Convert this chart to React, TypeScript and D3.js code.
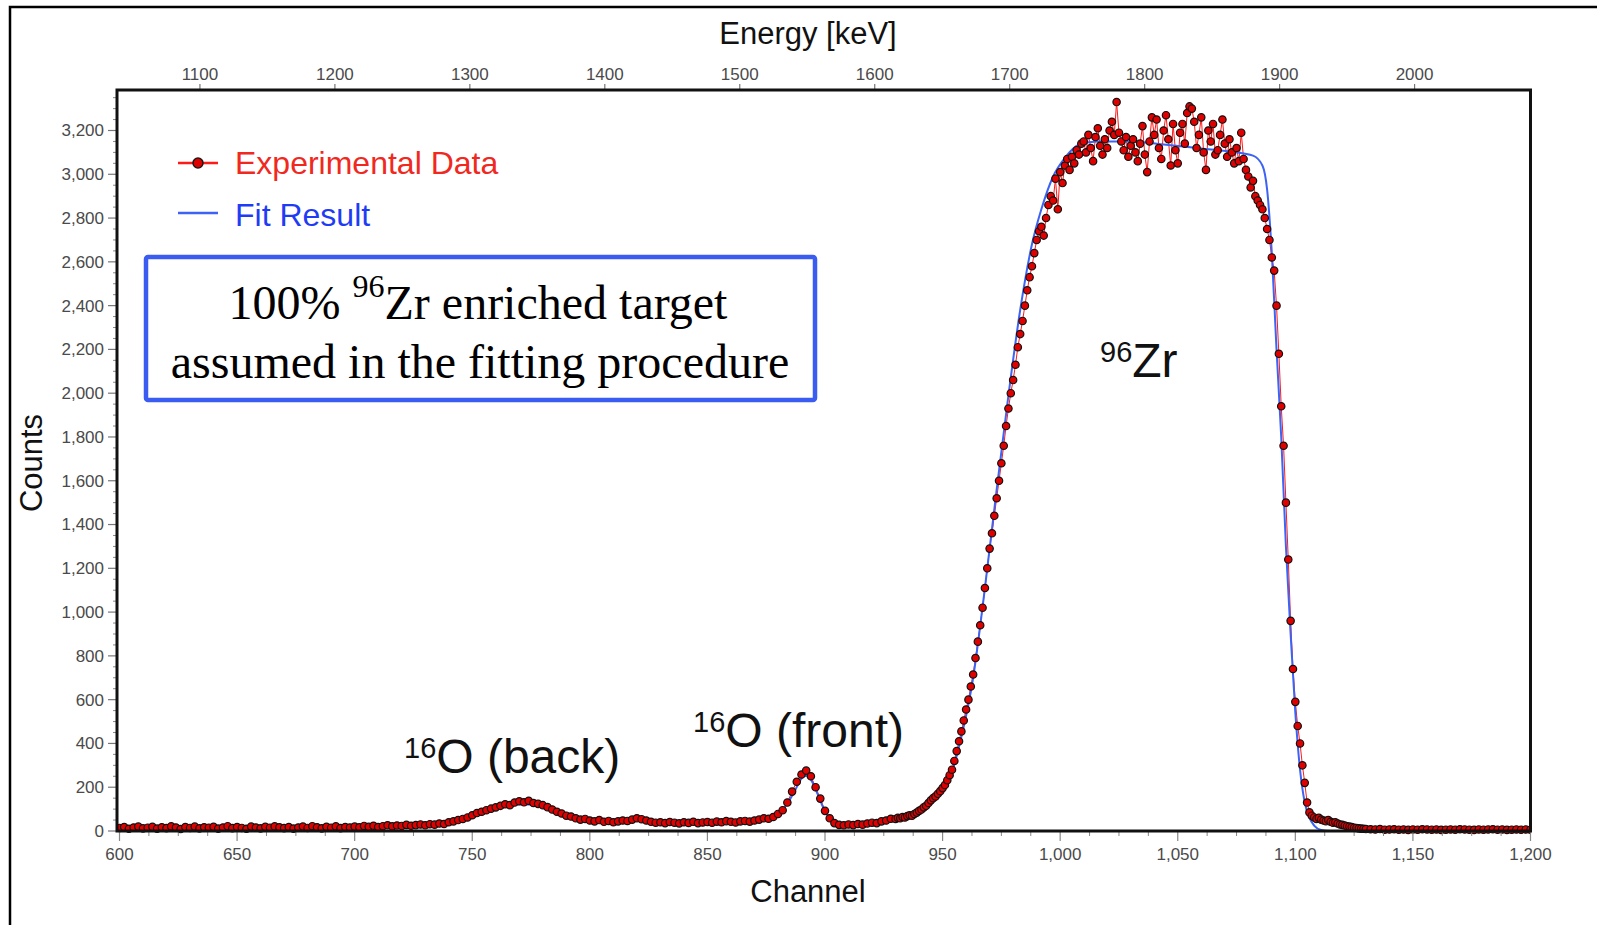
import React, { useEffect } from "react";
import * as d3 from "d3";

// measured spectrum, channels 600..928 every 2 channels
const bgStart = 600;
const bgStep = 2;
const bgCounts = [
  14, 18, 10, 16, 20, 12, 15, 19, 11, 17,
  13, 21, 16, 9, 18, 14, 20, 12, 17, 15,
  19, 11, 16, 22, 13, 18, 14, 10, 20, 16,
  12, 19, 15, 21, 17, 13, 18, 11, 16, 20,
  14, 22, 17, 12, 19, 15, 21, 13, 18, 16,
  20, 17, 23, 19, 24, 18, 22, 26, 21, 25,
  23, 28, 24, 27, 30, 26, 31, 29, 34, 32,
  40, 44, 50, 55, 62, 72, 82, 88, 95, 102,
  108, 115, 122, 118, 130, 136, 131, 138, 128, 124,
  118, 109, 98, 88, 80, 70, 66, 58, 52, 55,
  48, 44, 50, 42, 46, 40, 44, 48, 46, 52,
  58, 54, 48, 42, 38, 40, 36, 41, 38, 35,
  40, 37, 42, 36, 39,
  41, 38, 43, 40, 45, 42, 39, 44, 46, 43,
  48, 52, 58, 56, 64,
  78, 95, 130, 180, 225, 258, 276, 250, 200, 148,
  92, 58, 36, 28, 26, 30, 27, 32, 29, 34,
  38, 36, 44, 48, 56,
];

// 96Zr peak region, channels 930..1130 every channel
const zrStart = 930;
const zrStep = 1;
const zrCounts = [
  55, 60, 58, 64, 62, 68, 72, 70, 78, 84,
  92, 98, 108, 115, 128, 140, 150, 158, 170, 182,
  196, 210, 232, 255, 280, 320, 365, 410, 455, 505,
  555, 600, 660, 715, 790, 865, 940, 1020, 1110, 1200,
  1290, 1360, 1440, 1520, 1600, 1680, 1760, 1850, 1930, 2000,
  2060, 2130, 2210, 2270, 2330, 2400, 2470, 2530, 2580, 2640,
  2700, 2740, 2760, 2720, 2800, 2860, 2900, 2880, 2980, 2840,
  3010, 2960, 3040, 3070, 3020, 3080, 3050, 3110, 3090, 3140,
  3150, 3100, 3180, 3120, 3060, 3170, 3210, 3130, 3090, 3160,
  3120, 3200, 3240, 3180, 3330, 3190, 3150, 3110, 3170, 3080,
  3130, 3160, 3100, 3060, 3140, 3220, 3090, 3010, 3150, 3260,
  3180, 3250, 3120, 3070, 3200, 3270, 3160, 3040, 3230, 3110,
  3050, 3190, 3230, 3140, 3280, 3310, 3300, 3240, 3120, 3180,
  3260, 3100, 3020, 3200, 3150, 3230, 3090, 3110, 3180, 3250,
  3140, 3080, 3160, 3100, 3050, 3120, 3060, 3190, 3070, 3020,
  2990, 2940, 2970, 2900, 2880, 2860,
  2840, 2800, 2750, 2700, 2620, 2560, 2400, 2180, 1940, 1760,
  1500, 1240, 960, 740, 590, 480, 400, 300, 220, 130,
  85, 70, 62, 55, 60, 52, 48, 45, 50, 42,
  38, 40, 34, 30, 28, 25, 22, 20, 18, 15,
  14, 12, 11, 10, 9,
];

// flat tail, channels 1132..1200 every 2 channels
const tailStart = 1132;
const tailStep = 2;
const tailCounts = [
  8, 7, 9, 6, 7, 8, 6, 7, 5, 7,
  6, 8, 7, 6, 7, 5, 6, 7, 6, 8,
  7, 6, 5, 7, 6, 7, 8, 6, 7, 5,
  6, 7, 6, 7, 6,
];

// fit result
const fitChannels = [
  600, 650, 700, 720, 735, 745, 755, 763, 770, 777,
  785, 795, 805, 815, 822, 830, 845, 860, 870, 878,
  883, 887, 890, 892, 894, 897, 900, 903, 907, 915,
  925, 935, 942, 948, 953, 958, 963, 968, 973, 978,
  983, 988, 992, 997, 1002, 1008, 1016, 1030, 1045, 1060,
  1073, 1082, 1086, 1088, 1090, 1092, 1094, 1096, 1098, 1100,
  1102, 1104, 1106, 1108, 1111, 1115, 1200,
];
const fitCounts = [
  22, 22, 24, 28, 35, 50, 80, 108, 122, 120,
  95, 60, 45, 45, 50, 40, 36, 38, 45, 65,
  110, 180, 240, 252, 235, 165, 90, 48, 30, 28,
  40, 65, 105, 165, 240, 430, 700, 1110, 1560, 1990,
  2380, 2680, 2840, 2990, 3075, 3135, 3150, 3150, 3135, 3118,
  3103, 3085, 3040, 2930, 2640, 2200, 1800, 1300, 900, 540,
  280, 130, 60, 25, 5, 0, 0,
];

const channelTicks = [600, 650, 700, 750, 800, 850, 900, 950, 1000, 1050, 1100, 1150, 1200];
const countTicks = [0, 200, 400, 600, 800, 1000, 1200, 1400, 1600, 1800, 2000, 2200, 2400, 2600, 2800, 3000, 3200];
const energyTicks = [1100, 1200, 1300, 1400, 1500, 1600, 1700, 1800, 1900, 2000];

// energy calibration: E[keV] = gain * channel + offset
const gain = 1.7425;
const offset = -5.1;

const W = 1597;
const H = 925;
const plot = { left: 117, right: 1530.5, top: 90, bottom: 831 };

const sans = "'Liberation Sans', Arial, sans-serif";
const serif = "'Liberation Serif', 'Times New Roman', serif";
const tickColor = "#4a4a4a";
const red = "#ff1a1a";
const blue = "#3d63f5";

export default function App() {
  useEffect(() => {
    document.body.style.margin = "0";
    document.body.style.overflow = "hidden";
  }, []);

  const x = d3.scaleLinear().domain([600, 1200]).range([119.5, plot.right]);
  const y = d3.scaleLinear().domain([0, 3200]).range([plot.bottom, 130.5]);
  const e = d3
    .scaleLinear()
    .domain([gain * 600 + offset, gain * 1200 + offset])
    .range(x.range());

  const points = [
    ...bgCounts.map((c, i) => ({ ch: bgStart + i * bgStep, c })),
    ...zrCounts.map((c, i) => ({ ch: zrStart + i * zrStep, c })),
    ...tailCounts.map((c, i) => ({ ch: tailStart + i * tailStep, c })),
  ];
  const fit = fitChannels.map((ch, i) => ({ ch, c: fitCounts[i] }));

  const dataLine = d3
    .line<{ ch: number; c: number }>()
    .x((d) => x(d.ch))
    .y((d) => y(d.c));
  const fitLine = d3
    .line<{ ch: number; c: number }>()
    .x((d) => x(d.ch))
    .y((d) => y(d.c))
    .curve(d3.curveMonotoneX);

  const yMax = y.invert(plot.top);
  const yMinor = d3.range(50, yMax, 50).filter((v) => v % 200 !== 0);
  const xMinor = d3.range(600, 1200, 12.5).filter((v) => v % 50 !== 0);
  const fmt = d3.format(",");

  return (
    <svg width={W} height={H} style={{ display: "block", background: "#fff" }}>
      <defs>
        <clipPath id="plotClip">
          <rect x={plot.left} y={plot.top} width={plot.right - plot.left} height={plot.bottom - plot.top + 4} />
        </clipPath>
      </defs>

      {/* outer figure frame */}
      <path d={`M10,${H} V7 H${W}`} fill="none" stroke="#000" strokeWidth={2.5} />

      {/* data */}
      <g clipPath="url(#plotClip)">
        <path d={dataLine(points) || ""} fill="none" stroke={red} strokeWidth={1} />
        <path d={fitLine(fit) || ""} fill="none" stroke={blue} strokeWidth={2} />
        {points.map((p, i) => (
          <circle key={i} cx={x(p.ch)} cy={y(p.c)} r={3.7} fill="#e00000" stroke="#111" strokeWidth={1.2} />
        ))}
      </g>

      {/* left axis */}
      {yMinor.map((v) => (
        <line key={"ym" + v} x1={plot.left - 4} x2={plot.left} y1={y(v)} y2={y(v)} stroke="#888" strokeWidth={1} />
      ))}
      {countTicks.map((v) => (
        <g key={"y" + v}>
          <line x1={plot.left - 9} x2={plot.left} y1={y(v)} y2={y(v)} stroke="#777" strokeWidth={1.2} />
          <text x={104} y={y(v)} dy="0.35em" textAnchor="end" fontFamily={sans} fontSize={17} fill={tickColor}>
            {fmt(v)}
          </text>
        </g>
      ))}

      {/* bottom axis */}
      {xMinor.map((v) => (
        <line key={"xm" + v} x1={x(v)} x2={x(v)} y1={plot.bottom} y2={plot.bottom + 5} stroke="#888" strokeWidth={1} />
      ))}
      {channelTicks.map((v) => (
        <g key={"x" + v}>
          <line x1={x(v)} x2={x(v)} y1={plot.bottom} y2={plot.bottom + 10} stroke="#888" strokeWidth={1.2} />
          <text x={x(v)} y={860} textAnchor="middle" fontFamily={sans} fontSize={17} fill={tickColor}>
            {fmt(v)}
          </text>
        </g>
      ))}

      {/* top energy axis */}
      {energyTicks.map((v) => (
        <g key={"e" + v}>
          <line x1={e(v)} x2={e(v)} y1={plot.top - 6} y2={plot.top} stroke="#777" strokeWidth={1.2} />
          <text x={e(v)} y={80} textAnchor="middle" fontFamily={sans} fontSize={17} fill={tickColor}>
            {v}
          </text>
        </g>
      ))}

      {/* plot frame */}
      <rect
        x={plot.left}
        y={plot.top}
        width={plot.right - plot.left}
        height={plot.bottom - plot.top}
        fill="none"
        stroke="#111"
        strokeWidth={3}
      />

      {/* axis titles */}
      <text x={808} y={44} textAnchor="middle" fontFamily={sans} fontSize={31} fill="#111">
        Energy [keV]
      </text>
      <text x={808} y={902} textAnchor="middle" fontFamily={sans} fontSize={31} fill="#111">
        Channel
      </text>
      <text
        transform="translate(31,463) rotate(-90)"
        textAnchor="middle"
        dy="0.35em"
        fontFamily={sans}
        fontSize={31}
        fill="#111"
      >
        Counts
      </text>

      {/* legend */}
      <line x1={178} x2={218} y1={163} y2={163} stroke={red} strokeWidth={2.5} />
      <circle cx={198} cy={163} r={5} fill="#e00000" stroke="#1a1a1a" strokeWidth={1.5} />
      <text x={235} y={174} fontFamily={sans} fontSize={32} fill="#f0281e">
        Experimental Data
      </text>
      <line x1={178} x2={218} y1={213} y2={213} stroke={blue} strokeWidth={2.5} />
      <text x={235} y={226} fontFamily={sans} fontSize={32} fill="#1f3cf5">
        Fit Result
      </text>

      {/* note box */}
      <rect x={146} y={257} width={669} height={143} fill="#fff" stroke="#3a5cf0" strokeWidth={4.5} rx={2} />
      <text x={478} y={319} textAnchor="middle" fontFamily={serif} fontSize={48} fill="#000">
        100%{"   "}
        <tspan fontSize={32} dy={-22}>
          96
        </tspan>
        <tspan dy={22}>Zr enriched target</tspan>
      </text>
      <text x={480} y={378} textAnchor="middle" fontFamily={serif} fontSize={48} fill="#000">
        assumed in the fitting procedure
      </text>

      {/* peak labels */}
      <text x={404} y={773} fontFamily={sans} fontSize={48} fill="#111">
        <tspan fontSize={29} dy={-15}>
          16
        </tspan>
        <tspan dy={15}>O (back)</tspan>
      </text>
      <text x={693} y={747} fontFamily={sans} fontSize={48} fill="#111">
        <tspan fontSize={29} dy={-15}>
          16
        </tspan>
        <tspan dy={15}>O (front)</tspan>
      </text>
      <text x={1100} y={377} fontFamily={sans} fontSize={48} fill="#111">
        <tspan fontSize={29} dy={-15}>
          96
        </tspan>
        <tspan dy={15}>Zr</tspan>
      </text>
    </svg>
  );
}
